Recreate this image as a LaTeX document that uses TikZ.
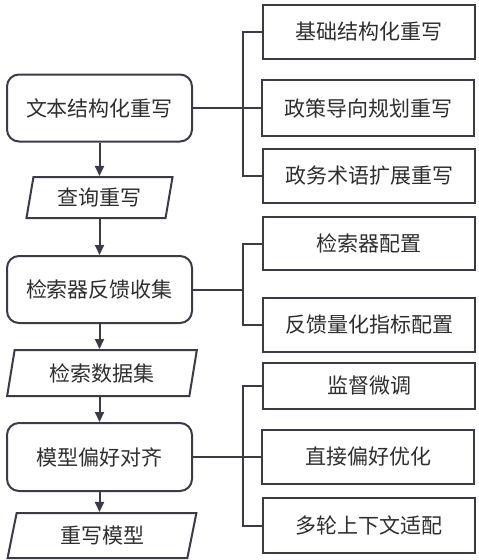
\documentclass[tikz,border=0pt]{standalone}
\usepackage{fontspec}
\setmainfont{Noto Sans CJK SC}
\usetikzlibrary{shapes.geometric,arrows.meta}
\definecolor{linec}{HTML}{3A3A48}
\definecolor{textc}{HTML}{2E2E2E}
\begin{document}
\begin{tikzpicture}[x=1pt,y=-1pt,
  every node/.style={font=\fontsize{21}{24}\selectfont, text=textc},
  mainbox/.style={draw=linec, line width=2pt, rounded corners=12pt, minimum width=185pt, minimum height=67pt, inner sep=0pt},
  databox/.style={draw=linec, line width=2pt, trapezium, trapezium left angle=77, trapezium right angle=103, trapezium stretches=true, inner sep=0pt},
  subbox/.style={draw=linec, line width=2pt, minimum width=212pt, inner sep=0pt},
  link/.style={draw=linec, line width=2pt},
  flow/.style={draw=linec, line width=2pt, -{Triangle[length=10pt,width=9pt]}}
]
\useasboundingbox (0,0) rectangle (479,560);
% left column
\node[mainbox] (A1) at (99.5,108) {文本结构化重写};
\node[databox, minimum width=147pt, minimum height=41pt] (D1) at (99.5,197.5) {查询重写};
\node[mainbox] (A2) at (99.5,289.5) {检索器反馈收集};
\node[databox, minimum width=190pt, minimum height=46pt] (D2) at (102,373) {检索数据集};
\node[mainbox, minimum height=68pt] (A3) at (99.5,457) {模型偏好对齐};
\node[databox, minimum width=190pt, minimum height=45pt] (D3) at (102,535.5) {重写模型};
% right column
\node[subbox, minimum height=54pt] (R1) at (369,32) {基础结构化重写};
\node[subbox, minimum height=56pt] (R2) at (368,108) {政策导向规划重写};
\node[subbox, minimum height=54pt] (R3) at (369,176) {政务术语扩展重写};
\node[subbox, minimum height=53pt] (R4) at (369,243.5) {检索器配置};
\node[subbox, minimum height=54pt] (R5) at (369,325) {反馈量化指标配置};
\node[subbox, minimum height=46pt] (R6) at (369,386) {监督微调};
\node[subbox, minimum height=54pt] (R7) at (368,457) {直接偏好优化};
\node[subbox, minimum height=55pt] (R8) at (369,525.5) {多轮上下文适配};
% flow arrows
\draw[flow] (A1.south) -- (A1.south |- D1.north);
\draw[flow] (A1.south |- D1.south) -- (A2.north);
\draw[flow] (A2.south) -- (A2.south |- D2.north);
\draw[flow] (A2.south |- D2.south) -- (A3.north);
\draw[flow] (A3.south) -- (A3.south |- D3.north);
% buses
\draw[link] (R1.west) -- ++(-19,0) coordinate (b1) |- (R3.west);
\draw[link] (A1.east) -- (R2.west);
\draw[link] (R4.west) -- ++(-19,0) coordinate (b2) |- (R5.west);
\draw[link] (A2.east) -- (A2.east -| b2);
\draw[link] (R6.west) -- ++(-19,0) coordinate (b3) |- (R8.west);
\draw[link] (A3.east) -- (R7.west);
\end{tikzpicture}
\end{document}
